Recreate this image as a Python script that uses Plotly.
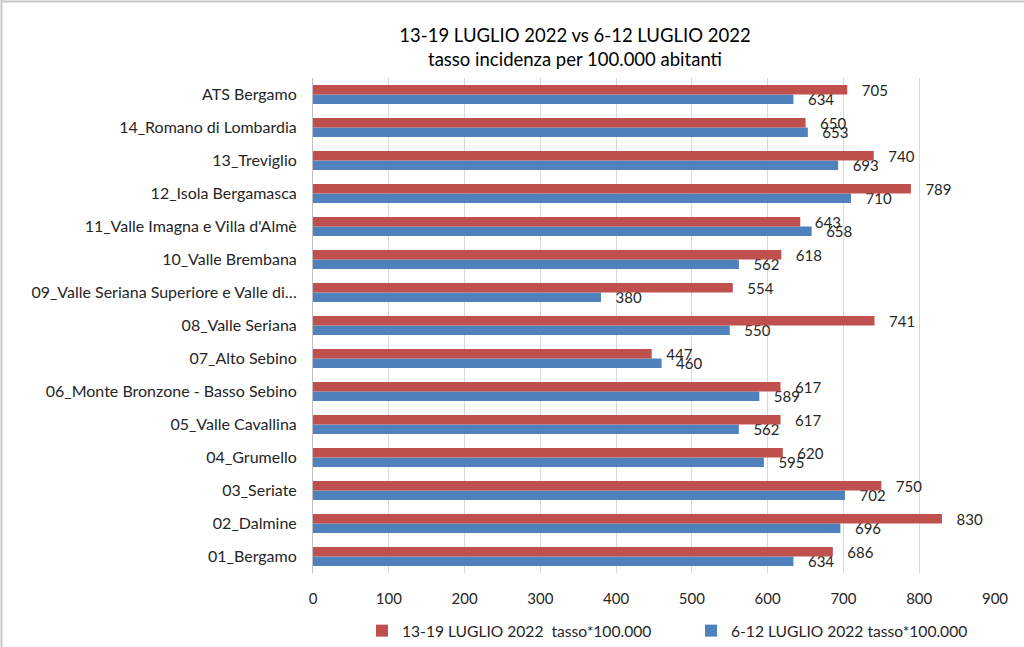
import plotly.graph_objects as go

categories = [
    "01_Bergamo", "02_Dalmine", "03_Seriate", "04_Grumello", "05_Valle Cavallina",
    "06_Monte Bronzone - Basso Sebino", "07_Alto Sebino", "08_Valle Seriana",
    "09_Valle Seriana Superiore e Valle di…", "10_Valle Brembana",
    "11_Valle Imagna e Villa d'Almè", "12_Isola Bergamasca", "13_Treviglio",
    "14_Romano di Lombardia", "ATS Bergamo",
]
week_13_19 = [686, 830, 750, 620, 617, 617, 447, 741, 554, 618, 643, 789, 740, 650, 705]
week_6_12 = [634, 696, 702, 595, 562, 589, 460, 550, 380, 562, 658, 710, 693, 653, 634]
name_13_19 = "13-19 LUGLIO 2022  tasso*100.000"
name_6_12 = "6-12 LUGLIO 2022 tasso*100.000"
x_ticks = [0, 100, 200, 300, 400, 500, 600, 700, 800, 900]

FONT = "Lato, Carlito, 'Open Sans', sans-serif"
W, H = 1024, 647
L, R, T, B = 313, 29, 78, 74
pw, ph = W - L - R, H - T - B

fig = go.Figure()
fig.add_trace(go.Bar(
    y=categories, x=week_6_12, orientation="h", name=name_6_12,
    marker=dict(color="#4F81BD", line=dict(width=0)),
    texttemplate="   %{x}", textposition="outside", cliponaxis=False,
    constraintext="none",
    textfont=dict(size=15, color="#262626", family=FONT), legendrank=2,
))
fig.add_trace(go.Bar(
    y=categories, x=week_13_19, orientation="h", name=name_13_19,
    marker=dict(color="#C0504D", line=dict(width=0)),
    texttemplate="   %{x}", textposition="outside", cliponaxis=False,
    constraintext="none",
    textfont=dict(size=15, color="#262626", family=FONT), legendrank=1,
))

fig.update_layout(
    width=W, height=H,
    margin=dict(l=L, r=R, t=T, b=B, autoexpand=False),
    paper_bgcolor="white", plot_bgcolor="white",
    barmode="group", bargap=0.42, bargroupgap=0,
    font=dict(family=FONT, size=14, color="#262626"),
    title=dict(
        text="13-19 LUGLIO 2022 vs 6-12 LUGLIO 2022<br>tasso incidenza per 100.000 abitanti",
        x=575 / W, xref="container", xanchor="center",
        y=1 - 42 / H, yref="container", yanchor="top",
        font=dict(size=18.5, family=FONT, color="#000000"),
    ),
    xaxis=dict(
        range=[0, 900], tickvals=x_ticks, showgrid=True, gridcolor="#D9D9D9",
        gridwidth=1, zeroline=False, showline=False, ticks="",
        ticklabelstandoff=15,
        tickfont=dict(size=15, color="#262626"), fixedrange=True,
    ),
    yaxis=dict(
        showgrid=False, showline=True, linecolor="#BFBFBF", linewidth=1,
        ticks="", ticklabelstandoff=12, tickfont=dict(size=16, color="#262626"),
        zeroline=False,
    ),
    legend=dict(
        orientation="h", x=(1020 - L) / pw, xanchor="right",
        y=-(631 - (T + ph)) / ph, yanchor="middle",
        font=dict(size=15.6, color="#262626"), entrywidth=284, itemwidth=30,
        traceorder="normal",
    ),
    showlegend=True,
)

# figure border (top and left edges, as in reference)
fig.add_shape(type="line", xref="paper", yref="paper", layer="above",
              x0=-(L - 1) / pw, x1=(W - L) / pw, y0=1 + (T - 1.5) / ph, y1=1 + (T - 1.5) / ph,
              line=dict(color="#C8C8C8", width=2))
fig.add_shape(type="line", xref="paper", yref="paper", layer="above",
              x0=-(L - 1.5) / pw, x1=-(L - 1.5) / pw, y0=-B / ph, y1=1 + T / ph,
              line=dict(color="#C8C8C8", width=2))

fig.write_html("out.html")
